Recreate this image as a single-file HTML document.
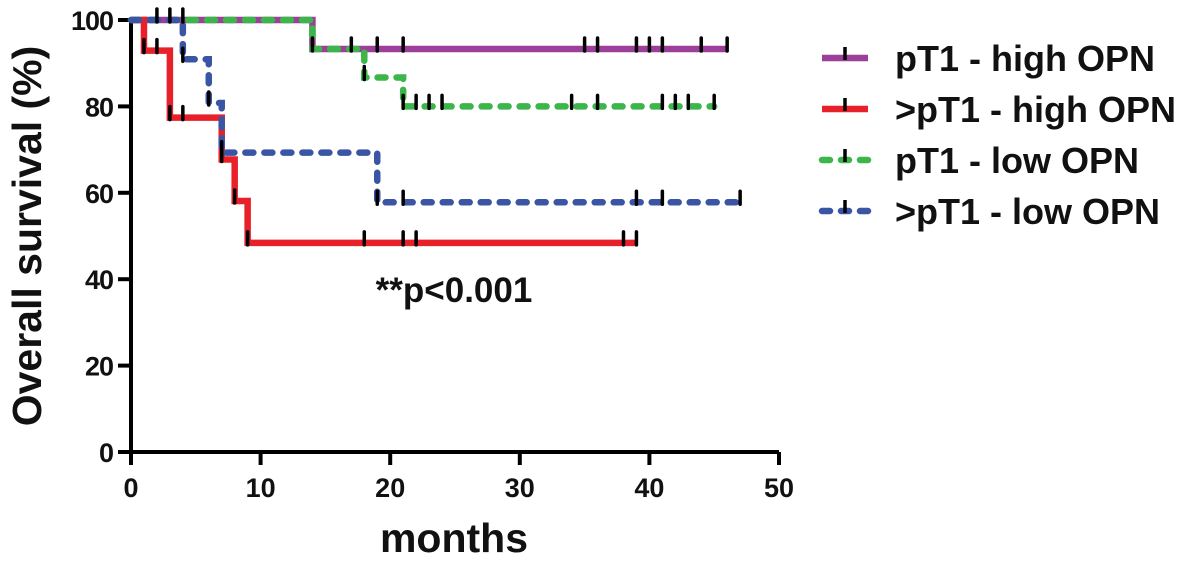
<!DOCTYPE html>
<html><head><meta charset="utf-8"><style>
body{margin:0;background:#fff;}
svg text{font-family:"Liberation Sans",Arial,sans-serif;font-weight:bold;fill:#111;}
</style></head><body>
<svg id="chart" width="1181" height="561" viewBox="0 0 1181 561" xmlns="http://www.w3.org/2000/svg">
<g id="axes"></g>
<g id="plot"></g>
<g id="legend"></g>
<text x="454" y="302" font-size="35" text-anchor="middle">**p&lt;0.001</text>
<text x="454" y="552" font-size="41" text-anchor="middle">months</text>
<text transform="translate(41,236) rotate(-90)" font-size="41" text-anchor="middle">Overall survival (%)</text>
</svg>
<script>
const xTicks=[0,10,20,30,40,50];
const yTicks=[0,20,40,60,80,100];
const seriesNames=["pT1 - high OPN",">pT1 - high OPN","pT1 - low OPN",">pT1 - low OPN"];
const seriesColors=["#9b3f98","#e8202a","#3cb54a","#3b55a5"];
const seriesDashed=[false,false,true,true];
const purpleTimes=[0,14,46];
const purpleVals=[100,93.3,93.3];
const purpleCens=[2,3,4,14,17,19,21,35,36,39,40,41,44,46];
const redTimes=[0,1,3,7,8,9,39];
const redVals=[100,92.9,77.4,67.7,58.1,48.4,48.4];
const redCens=[1,2,3,4,7,8,9,18,21,22,38,39];
const greenTimes=[0,14,18,21,45];
const greenVals=[100,93.3,86.7,80,80];
const greenCens=[18,21,22,23,24,34,36,41,42,43,45];
const blueTimes=[0,4,6,7,19,47];
const blueVals=[100,90.9,80.8,69.3,57.8,57.8];
const blueCens=[4,6,7,19,21,39,41,47];

const NS="http://www.w3.org/2000/svg";
const X0=131,X1=779,Y0=452,Y1=20;
const xs=m=>X0+(X1-X0)*m/50;
const ys=v=>Y0-(Y0-Y1)*v/100;
function mk(tag,attrs,parent){const e=document.createElementNS(NS,tag);for(const k in attrs)e.setAttribute(k,attrs[k]);parent.appendChild(e);return e;}
const axes=document.getElementById('axes');
let a=mk('path',{d:`M${X0},${Y1-2} V${Y0} H${X1}`,stroke:'#000','stroke-width':4,fill:'none'},axes);


xTicks.forEach(t=>{
  const l=mk('line',{x1:xs(t),x2:xs(t),y1:Y0,y2:Y0+13,stroke:'#000','stroke-width':4},axes);
  
  
  const tx=mk('text',{x:xs(t),y:Y0+45,'font-size':27,'text-anchor':'middle'},axes);tx.textContent=t;
  
  
});
yTicks.forEach(t=>{
  const l=mk('line',{x1:X0-13,x2:X0,y1:ys(t),y2:ys(t),stroke:'#000','stroke-width':4},axes);
  
  
  const tx=mk('text',{x:X0-18,y:ys(t)+10,'font-size':27,'text-anchor':'end','letter-spacing':'-1'},axes);tx.textContent=t;
  
  
});
const plot=document.getElementById('plot');
const all=[[purpleTimes,purpleVals,purpleCens],[redTimes,redVals,redCens],[greenTimes,greenVals,greenCens],[blueTimes,blueVals,blueCens]];
const keys=['pt1-high-opn','gt-pt1-high-opn','pt1-low-opn','gt-pt1-low-opn'];
function valAt(T,V,t){let v=V[0];for(let i=0;i<T.length;i++){if(T[i]<=t)v=V[i];}return v;}
all.forEach(([T,V,C],i)=>{
  let d=`M${xs(T[0])},${ys(V[0])}`;
  for(let k=1;k<T.length;k++){d+=` H${xs(T[k])} V${ys(V[k])}`;}
  const p=mk('path',{d:d,stroke:seriesColors[i],'stroke-width':6.5,fill:'none','stroke-linejoin':'miter'},plot);
  if(seriesDashed[i]){p.setAttribute('stroke-dasharray','8 11');p.setAttribute('stroke-linecap','round');}
  
  
});
all.forEach(([T,V,C],i)=>{
  C.forEach(t=>{
    const y=ys(valAt(T,V,t));
    const c=mk('line',{x1:xs(t),x2:xs(t),y1:y-11,y2:y+2,stroke:'#000','stroke-width':3.5,'stroke-linecap':'round'},plot);
    
    
  });
});
const lg=document.getElementById('legend');
seriesNames.forEach((n,i)=>{
  const y=58+i*51;
  const l=mk('line',{x1:822,x2:868,y1:y,y2:y,stroke:seriesColors[i],'stroke-width':6.5},lg);
  if(seriesDashed[i]){l.setAttribute('stroke-dasharray','8 11');l.setAttribute('stroke-linecap','round');}
  
  
  const m=mk('line',{x1:845,x2:845,y1:y-11,y2:y+2,stroke:'#000','stroke-width':3.5},lg);
  
  
  const tx=mk('text',{x:895,y:y+13,'font-size':36},lg);tx.textContent=n;
  
  
});
</script>
</body></html>
